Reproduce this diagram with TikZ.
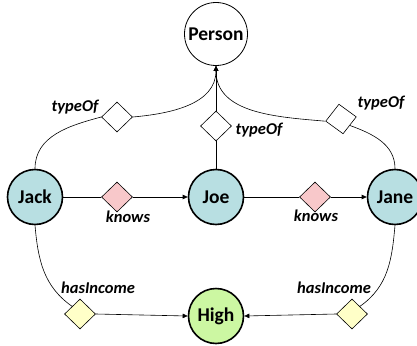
\documentclass[tikz,border=0pt]{standalone}
\usepackage{fontspec}
\setmainfont{Carlito}
\usetikzlibrary{arrows.meta,shapes.geometric}
\definecolor{pblue}{HTML}{B8DFE2}
\definecolor{pgreen}{HTML}{CCF7A2}
\definecolor{ppink}{HTML}{F8C8CA}
\definecolor{pyellow}{HTML}{FFFFC8}
\tikzset{
  ent/.style={circle, draw=black, line width=1.6pt, fill=pblue, minimum size=55pt, inner sep=0pt, font=\fontsize{19.5}{21}\selectfont\bfseries},
  cls/.style={circle, draw=black, line width=0.8pt, fill=white, minimum size=63pt, inner sep=0pt, font=\fontsize{19.5}{21}\selectfont\bfseries},
  dia/.style={diamond, draw=black, line width=0.6pt, minimum width=31pt, minimum height=30pt, inner sep=0pt},
  lbl/.style={font=\fontsize{16.5}{18}\selectfont\bfseries\itshape, inner sep=0pt},
  edge/.style={line width=0.6pt},
  arr/.style={line width=0.6pt, -{Triangle[length=5pt,width=4.5pt]}}
}
\begin{document}
\begin{tikzpicture}[x=1pt,y=-1pt]
\useasboundingbox (0,0) rectangle (417,345);
\node[cls] (person) at (216,34) {Person};
\node[ent] (jack) at (35,197) {Jack};
\node[ent] (joe) at (216,197) {Joe};
\node[ent] (jane) at (395,197) {Jane};
\node[ent, fill=pgreen] (high) at (216,316) {High};
% diamonds
\node[dia, fill=white] (t1) at (117,117) {};
\node[dia, fill=white] (t2) at (216,126) {};
\node[dia, fill=white, rotate=8] (t3) at (341,119) {};
\node[dia, fill=ppink] (k1) at (117,197) {};
\node[dia, fill=ppink] (k2) at (315,197) {};
\node[dia, fill=pyellow] (h1) at (80,314) {};
\node[dia, fill=pyellow] (h2) at (352,314) {};
% labels
\node[lbl] (lt1) at (75,107) {typeOf};
\node[lbl] (lt2) at (259,130) {typeOf};
\node[lbl] (lt3) at (381,103) {typeOf};
\node[lbl] (lk1) at (128,217) {knows};
\node[lbl] (lk2) at (316,216) {knows};
\node[lbl] (lh1) at (98,288) {hasIncome};
\node[lbl] (lh2) at (334,288) {hasIncome};
% typeOf edges
\draw[edge] (jack.north) to[out=90,in=195] (t1.west);
\draw[arr] (t1.east) to[out=5,in=-90] (person.south);
\draw[edge] (joe.north) -- (t2.south);
\draw[arr] (t2.north) -- (person.south);
\draw[edge] (jane.north) to[out=90,in=-20] (t3.south east);
\draw[arr] (t3.west) to[out=175,in=-90] (person.south);
% knows edges
\draw[edge] (jack.east) -- (k1.west);
\draw[arr] (k1.east) -- (joe.west);
\draw[edge] (joe.east) -- (k2.west);
\draw[arr] (k2.east) -- (jane.west);
% hasIncome edges
\draw[edge] (jack.south) to[out=-85,in=145] (h1.north west);
\draw[arr] (h1.east) -- (high.west);
\draw[edge] (jane.south) to[out=-95,in=35] (h2.north east);
\draw[arr] (h2.west) -- (high.east);
\end{tikzpicture}
\end{document}
